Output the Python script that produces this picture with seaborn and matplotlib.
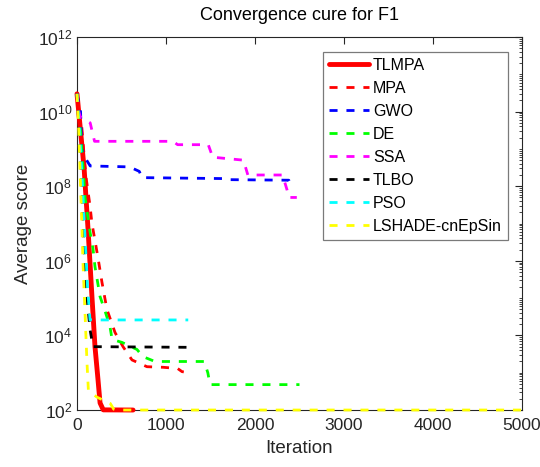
import numpy as np
import pandas as pd
import seaborn as sns
import matplotlib
matplotlib.use("Agg")
import matplotlib.pyplot as plt
from matplotlib.ticker import LogLocator, FixedLocator, NullFormatter, LogFormatterSciNotation

# Convergence histories (iteration, average best score) for each optimiser
tlmpa_it = [0, 40, 80, 124, 168, 202, 236, 259, 295, 630]
tlmpa_sc = [3e10, 3e9, 3e8, 7e6, 1.1e5, 5e3, 650, 155, 101, 100]

mpa_it = [0, 50, 98, 146, 168, 202, 236, 280, 336, 427, 517, 618, 786, 966, 1130, 1180, 1200]
mpa_sc = [3e10, 5e9, 2e8, 3e7, 1e7, 3.5e6, 1.2e6, 2.7e5, 5e4, 1.2e4, 5e3, 2.2e3, 1.45e3, 1.4e3, 1.3e3, 1.07e3, 1.05e3]

gwo_it = [0, 40, 54, 108, 148, 590, 700, 730, 1685, 1720, 2380, 2400, 2430]
gwo_sc = [3e10, 1e10, 1e9, 5e8, 3.5e8, 3.3e8, 2.5e8, 1.7e8, 1.6e8, 1.5e8, 1.45e8, 1e8, 9e7]

de_it = [0, 40, 69, 90, 146, 180, 202, 259, 315, 371, 394, 506, 674, 741, 876, 1430, 1470, 1495, 2500]
de_sc = [3e10, 3e9, 3e8, 5e7, 6e6, 2.1e6, 7e5, 1.1e5, 4.5e4, 1.7e4, 7.8e3, 6.5e3, 4.2e3, 2.7e3, 2e3, 2e3, 1e3, 480, 480]

ssa_it = [0, 20, 40, 98, 148, 197, 1080, 1130, 1475, 1525, 1870, 1920, 2310, 2360, 2380, 2470]
ssa_sc = [3e10, 1e10, 7e9, 6e9, 5e9, 1.6e9, 1.6e9, 1.3e9, 1.3e9, 6e8, 5e8, 2e8, 2e8, 8e7, 5e7, 5e7]

tlbo_it = [0, 25, 56, 79, 112, 146, 180, 1250]
tlbo_sc = [3e10, 3e9, 9e7, 2e6, 1.1e5, 1.45e4, 5e3, 4.8e3]

pso_it = [0, 30, 56, 89, 118, 146, 1250]
pso_sc = [3e10, 3e9, 2e8, 5e6, 2e5, 2.6e4, 2.6e4]

lshade_it = [0, 20, 40, 56, 67, 90, 112, 128, 226, 374, 413, 443, 5000]
lshade_sc = [3e10, 3e9, 1e8, 7e6, 9e5, 4e4, 1.9e3, 330, 220, 150, 105, 100, 100]

names = ["TLMPA", "MPA", "GWO", "DE", "SSA", "TLBO", "PSO", "LSHADE-cnEpSin"]
iters = [tlmpa_it, mpa_it, gwo_it, de_it, ssa_it, tlbo_it, pso_it, lshade_it]
scores = [tlmpa_sc, mpa_sc, gwo_sc, de_sc, ssa_sc, tlbo_sc, pso_sc, lshade_sc]
colors = ["#ff0000", "#ff0000", "#0000ff", "#00ff00", "#ff00ff", "#000000", "#00ffff", "#ffff00"]

sns.set_style("white")
plt.rcParams["font.family"] = ["Liberation Sans", "DejaVu Sans"]
plt.rcParams["mathtext.fontset"] = "custom"
plt.rcParams["mathtext.rm"] = "Liberation Sans"
plt.rcParams["mathtext.it"] = "Liberation Sans:italic"

txt = "#262626"
fig = plt.figure(figsize=(5.40, 4.67), dpi=100)
ax = fig.add_axes([0.1426, 0.122, 0.824, 0.7987])

for i, (name, it, sc, col) in enumerate(zip(names, iters, scores, colors)):
    df = pd.DataFrame({"Iteration": it, "Average score": sc})
    solid = name == "TLMPA"
    sns.lineplot(data=df, x="Iteration", y="Average score", ax=ax, color=col,
                 estimator=None, sort=False, label=name, clip_on=False,
                 zorder=3 + 0.01 * i,
                 lw=3.5 if solid else 2.0,
                 linestyle="-" if solid else (0, (2.9, 3.2)))

ax.set_yscale("log")
ax.set_xlim(0, 5000)
ax.set_ylim(1e2, 1e12)
ax.set_xticks([0, 1000, 2000, 3000, 4000, 5000])
ax.yaxis.set_major_locator(FixedLocator([1e2, 1e4, 1e6, 1e8, 1e10, 1e12]))
ax.yaxis.set_major_formatter(LogFormatterSciNotation())
ax.yaxis.set_minor_locator(LogLocator(base=10, subs=np.arange(1, 10), numticks=100))
ax.yaxis.set_minor_formatter(NullFormatter())

ax.tick_params(which="both", direction="in", top=True, right=True, colors=txt,
               labelsize=12.5, labelcolor=txt)
ax.tick_params(which="major", length=5, width=0.8)
ax.tick_params(axis="x", which="major", pad=6)
ax.tick_params(which="minor", length=2.5, width=0.6)
for s in ax.spines.values():
    s.set_color(txt)
    s.set_linewidth(0.8)

ax.set_xlabel("Iteration", fontsize=13.5, color=txt, labelpad=5)
ax.set_ylabel("Average score", fontsize=13.5, color=txt, labelpad=4)
ax.set_title("Convergence cure for F1", fontsize=13, color="black", pad=12)

leg = ax.legend(loc="upper right", bbox_to_anchor=(0.9685, 0.96), fontsize=11.5,
                frameon=True, fancybox=False, handlelength=2.5, handletextpad=0.25,
                labelspacing=0.5, borderpad=0.38, borderaxespad=0)
leg.set_zorder(5)
leg.get_frame().set_edgecolor("#595959")
leg.get_frame().set_linewidth(0.9)
for t in leg.get_texts():
    t.set_color("black")

fig.savefig("out.png", dpi=100)
